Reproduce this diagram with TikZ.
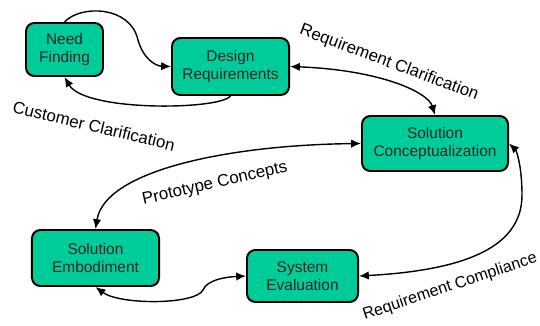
\documentclass[tikz,border=0pt]{standalone}
\usepackage{fontspec}
\setmainfont{Liberation Sans}
\usetikzlibrary{arrows.meta}
\definecolor{stagegreen}{RGB}{0,204,153}
\tikzset{
    stage/.style={draw=black, line width=1.4pt, fill=stagegreen, rounded corners=6pt, align=center, text=black!85, font=\fontsize{11}{13}\selectfont, inner sep=2pt},
    arrow/.style={-{Latex[length=7pt,width=6pt]}, line width=1pt},
    dblarrow/.style={{Latex[length=7pt,width=6pt]}-{Latex[length=7pt,width=6pt]}, line width=1pt},
    flowlabel/.style={font=\fontsize{12}{14}\selectfont, inner sep=0pt}
}

\begin{document}
\begin{tikzpicture}[x=0.025cm, y=-0.025cm]
        \useasboundingbox (0,0) rectangle (540,325);
        \node [stage, minimum width=1.925cm, minimum height=1.325cm] (need) at (64.5,49.5) {Need \\ Finding};
        \node [stage, minimum width=2.925cm, minimum height=1.425cm] (design) at (230.5,66.5) {Design \\ Requirements};
        \node [stage, minimum width=3.65cm, minimum height=1.375cm] (concept) at (435,143.5) {Solution \\ Conceptualization};
        \node [stage, minimum width=3.175cm, minimum height=1.4cm] (embody) at (95.5,258) {Solution \\ Embodiment};
        \node [stage, minimum width=2.775cm, minimum height=1.3cm] (evaluate) at (302.5,276) {System \\ Evaluation};
        \draw [arrow] (need.north) .. controls (80,5) and (130,5) .. (138,40) .. controls (143,58) and (155,66) .. (design.west);
        \draw [arrow] (design.south) .. controls (220,110) and (85,112) .. (need.south);
        \draw [dblarrow] (design.east) .. controls (380,70) and (428,92) .. (concept.north);
        \draw [dblarrow] (concept.west) .. controls (230,145) and (105,170) .. (embody.north);
        \draw [dblarrow] (embody.south) .. controls (120,305) and (195,305) .. (203,290) .. controls (207,280) and (225,277) .. (evaluate.west);
        \draw [dblarrow] (evaluate.east) .. controls (470,270) and (522,245) .. (522,195) .. controls (522,165) and (516,150) .. (concept.east);
        \node [flowlabel, rotate=-20.5] (reqclar) at (389,63) {Requirement Clarification};
        \node [flowlabel, rotate=-13.5] (custclar) at (94,126) {Customer Clarification};
        \node [flowlabel, rotate=13] (protocon) at (215,184) {Prototype Concepts};
        \node [flowlabel, font=\fontsize{11.5}{14}\selectfont, rotate=18.5] (reqcomp) at (450,287) {Requirement Compliance};
    \end{tikzpicture}
\end{document}
